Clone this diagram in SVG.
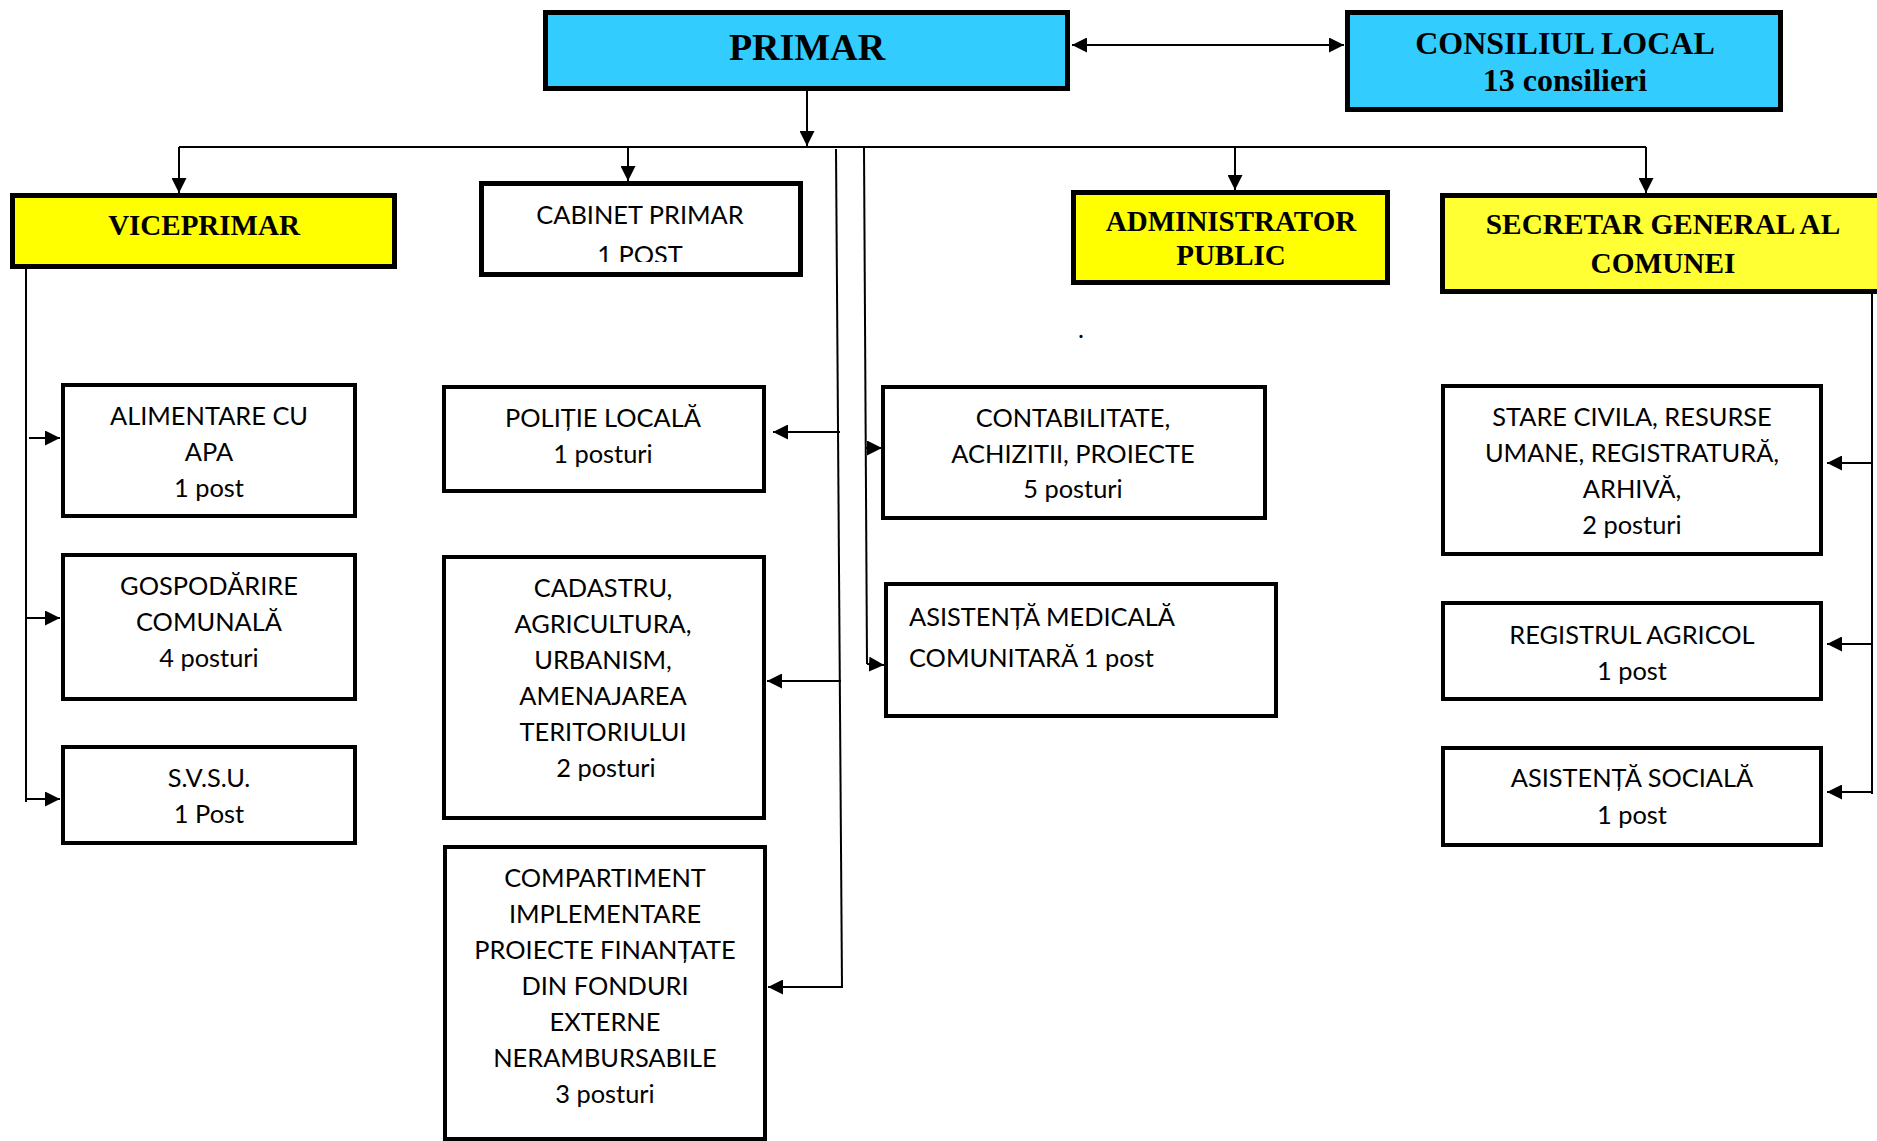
<svg xmlns="http://www.w3.org/2000/svg" width="1877" height="1141" viewBox="0 0 1877 1141">
<style>
.top{stroke:#000;stroke-width:5}
.box{fill:#fff;stroke:#000;stroke-width:4}
.blue{fill:#33CCFF}
.yel{fill:#FFFF00}
.yel2{fill:#FFFF33}
.h{font-family:"Liberation Serif","Times New Roman",serif;font-weight:bold;fill:#000;text-anchor:middle}
.t{font-family:Lato,"Open Sans",sans-serif;font-size:25.4px;fill:#000;text-anchor:middle}
.tl{font-family:Lato,"Open Sans",sans-serif;font-size:25.4px;fill:#000}
.c{fill:none;stroke:#000;stroke-width:2}
.ca{fill:none;stroke:#000;stroke-width:2;marker-end:url(#ah)}
</style>
<defs>
<marker id="ah" markerUnits="userSpaceOnUse" markerWidth="16" markerHeight="15" viewBox="0 0 16 15" refX="15" refY="7.5" orient="auto-start-reverse">
<path d="M0,0 L15,7.5 L0,15 z" fill="#000"/>
</marker>
<clipPath id="cabclip"><rect x="484" y="186" width="314" height="76"/></clipPath>
</defs>
<rect width="1877" height="1141" fill="#fff"/>

<g id="connectors">
<path class="ca" d="M1072,45 H1344" marker-start="url(#ah)"/>
<path class="ca" d="M807,91 V146"/>
<path class="c" d="M179,147 H1646"/>
<path class="ca" d="M179,147 V193"/>
<path class="ca" d="M628,147 V181"/>
<path class="ca" d="M1235,147 V190"/>
<path class="ca" d="M1646,147 V193"/>
<path class="c" d="M836,149 L842,988"/>
<path class="ca" d="M840,432 H773"/>
<path class="ca" d="M841,681 H767"/>
<path class="ca" d="M842,987 H768"/>
<path class="c" d="M864,148 L867,664"/>
<path class="ca" d="M865,448 H882"/>
<path class="ca" d="M867,664 L884,665"/>
<path class="c" d="M26,269 V802"/>
<path class="ca" d="M29,438 H60"/>
<path class="ca" d="M26,618 H60"/>
<path class="ca" d="M26,799 H60"/>
<path class="c" d="M1872,294 V794"/>
<path class="ca" d="M1872,463 H1827"/>
<path class="ca" d="M1872,644 H1827"/>
<path class="ca" d="M1872,792 H1827"/>
</g>

<g id="primar">
<rect class="top blue" x="545.5" y="12.5" width="522" height="76"/>
<text class="h" x="807" y="60" font-size="38">PRIMAR</text>
</g>
<g id="consiliul-local">
<rect class="top blue" x="1347.5" y="12.5" width="433" height="97"/>
<text class="h" x="1565" y="54" font-size="32">CONSILIUL LOCAL</text>
<text class="h" x="1565" y="91" font-size="32">13 consilieri</text>
</g>
<g id="viceprimar">
<rect class="top yel" x="12.5" y="195.5" width="382" height="71"/>
<text class="h" x="204" y="235" font-size="29">VICEPRIMAR</text>
</g>
<g id="cabinet-primar">
<rect class="top" fill="#fff" x="481.5" y="183.5" width="319" height="91"/>
<g clip-path="url(#cabclip)">
<text class="t" x="640" y="224">CABINET PRIMAR</text>
<text class="t" x="640" y="264">1 POST</text>
</g>
</g>
<g id="administrator-public">
<rect class="top yel" x="1073.5" y="192.5" width="314" height="90"/>
<text class="h" x="1231" y="231" font-size="29">ADMINISTRATOR</text>
<text class="h" x="1231" y="265" font-size="29">PUBLIC</text>
</g>
<g id="secretar-general">
<rect class="top yel2" x="1442.5" y="195.5" width="500" height="96"/>
<text class="h" x="1663" y="234" font-size="29.3">SECRETAR GENERAL AL</text>
<text class="h" x="1663" y="273" font-size="29.3">COMUNEI</text>
</g>

<g id="alimentare-apa">
<rect class="box" x="63" y="385" width="292" height="131"/>
<text class="t" x="209" y="425">ALIMENTARE CU</text>
<text class="t" x="209" y="461">APA</text>
<text class="t" x="209" y="497">1 post</text>
</g>
<g id="gospodarire-comunala">
<rect class="box" x="63" y="555" width="292" height="144"/>
<text class="t" x="209" y="595">GOSPODĂRIRE</text>
<text class="t" x="209" y="631">COMUNALĂ</text>
<text class="t" x="209" y="667">4 posturi</text>
</g>
<g id="svsu">
<rect class="box" x="63" y="747" width="292" height="96"/>
<text class="t" x="209" y="787">S.V.S.U.</text>
<text class="t" x="209" y="823">1 Post</text>
</g>

<g id="politie-locala">
<rect class="box" x="444" y="387" width="320" height="104"/>
<text class="t" x="603" y="427">POLIȚIE LOCALĂ</text>
<text class="t" x="603" y="463">1 posturi</text>
</g>
<g id="cadastru">
<rect class="box" x="444" y="557" width="320" height="261"/>
<text class="t" x="603" y="597">CADASTRU,</text>
<text class="t" x="603" y="633">AGRICULTURA,</text>
<text class="t" x="603" y="669">URBANISM,</text>
<text class="t" x="603" y="705">AMENAJAREA</text>
<text class="t" x="603" y="741">TERITORIULUI</text>
<text class="t" x="606" y="777">2 posturi</text>
</g>
<g id="compartiment-implementare">
<rect class="box" x="445" y="847" width="320" height="292"/>
<text class="t" x="605" y="887">COMPARTIMENT</text>
<text class="t" x="605" y="923">IMPLEMENTARE</text>
<text class="t" x="605" y="959">PROIECTE FINANȚATE</text>
<text class="t" x="605" y="995">DIN FONDURI</text>
<text class="t" x="605" y="1031">EXTERNE</text>
<text class="t" x="605" y="1067">NERAMBURSABILE</text>
<text class="t" x="605" y="1103">3 posturi</text>
</g>

<g id="contabilitate">
<rect class="box" x="883" y="387" width="382" height="131"/>
<text class="t" x="1073" y="427">CONTABILITATE,</text>
<text class="t" x="1073" y="463">ACHIZITII, PROIECTE</text>
<text class="t" x="1073" y="498">5 posturi</text>
</g>
<g id="asistenta-medicala">
<rect class="box" x="886" y="584" width="390" height="132"/>
<text class="tl" x="909" y="626">ASISTENȚĂ MEDICALĂ</text>
<text class="tl" x="909" y="667">COMUNITARĂ 1 post</text>
</g>
<text class="tl" x="1078" y="338">.</text>

<g id="stare-civila">
<rect class="box" x="1443" y="386" width="378" height="168"/>
<text class="t" x="1632" y="426">STARE CIVILA, RESURSE</text>
<text class="t" x="1632" y="462">UMANE, REGISTRATURĂ,</text>
<text class="t" x="1632" y="498">ARHIVĂ,</text>
<text class="t" x="1632" y="534">2 posturi</text>
</g>
<g id="registrul-agricol">
<rect class="box" x="1443" y="603" width="378" height="96"/>
<text class="t" x="1632" y="644">REGISTRUL AGRICOL</text>
<text class="t" x="1632" y="680">1 post</text>
</g>
<g id="asistenta-sociala">
<rect class="box" x="1443" y="748" width="378" height="97"/>
<text class="t" x="1632" y="787">ASISTENȚĂ SOCIALĂ</text>
<text class="t" x="1632" y="824">1 post</text>
</g>
</svg>
